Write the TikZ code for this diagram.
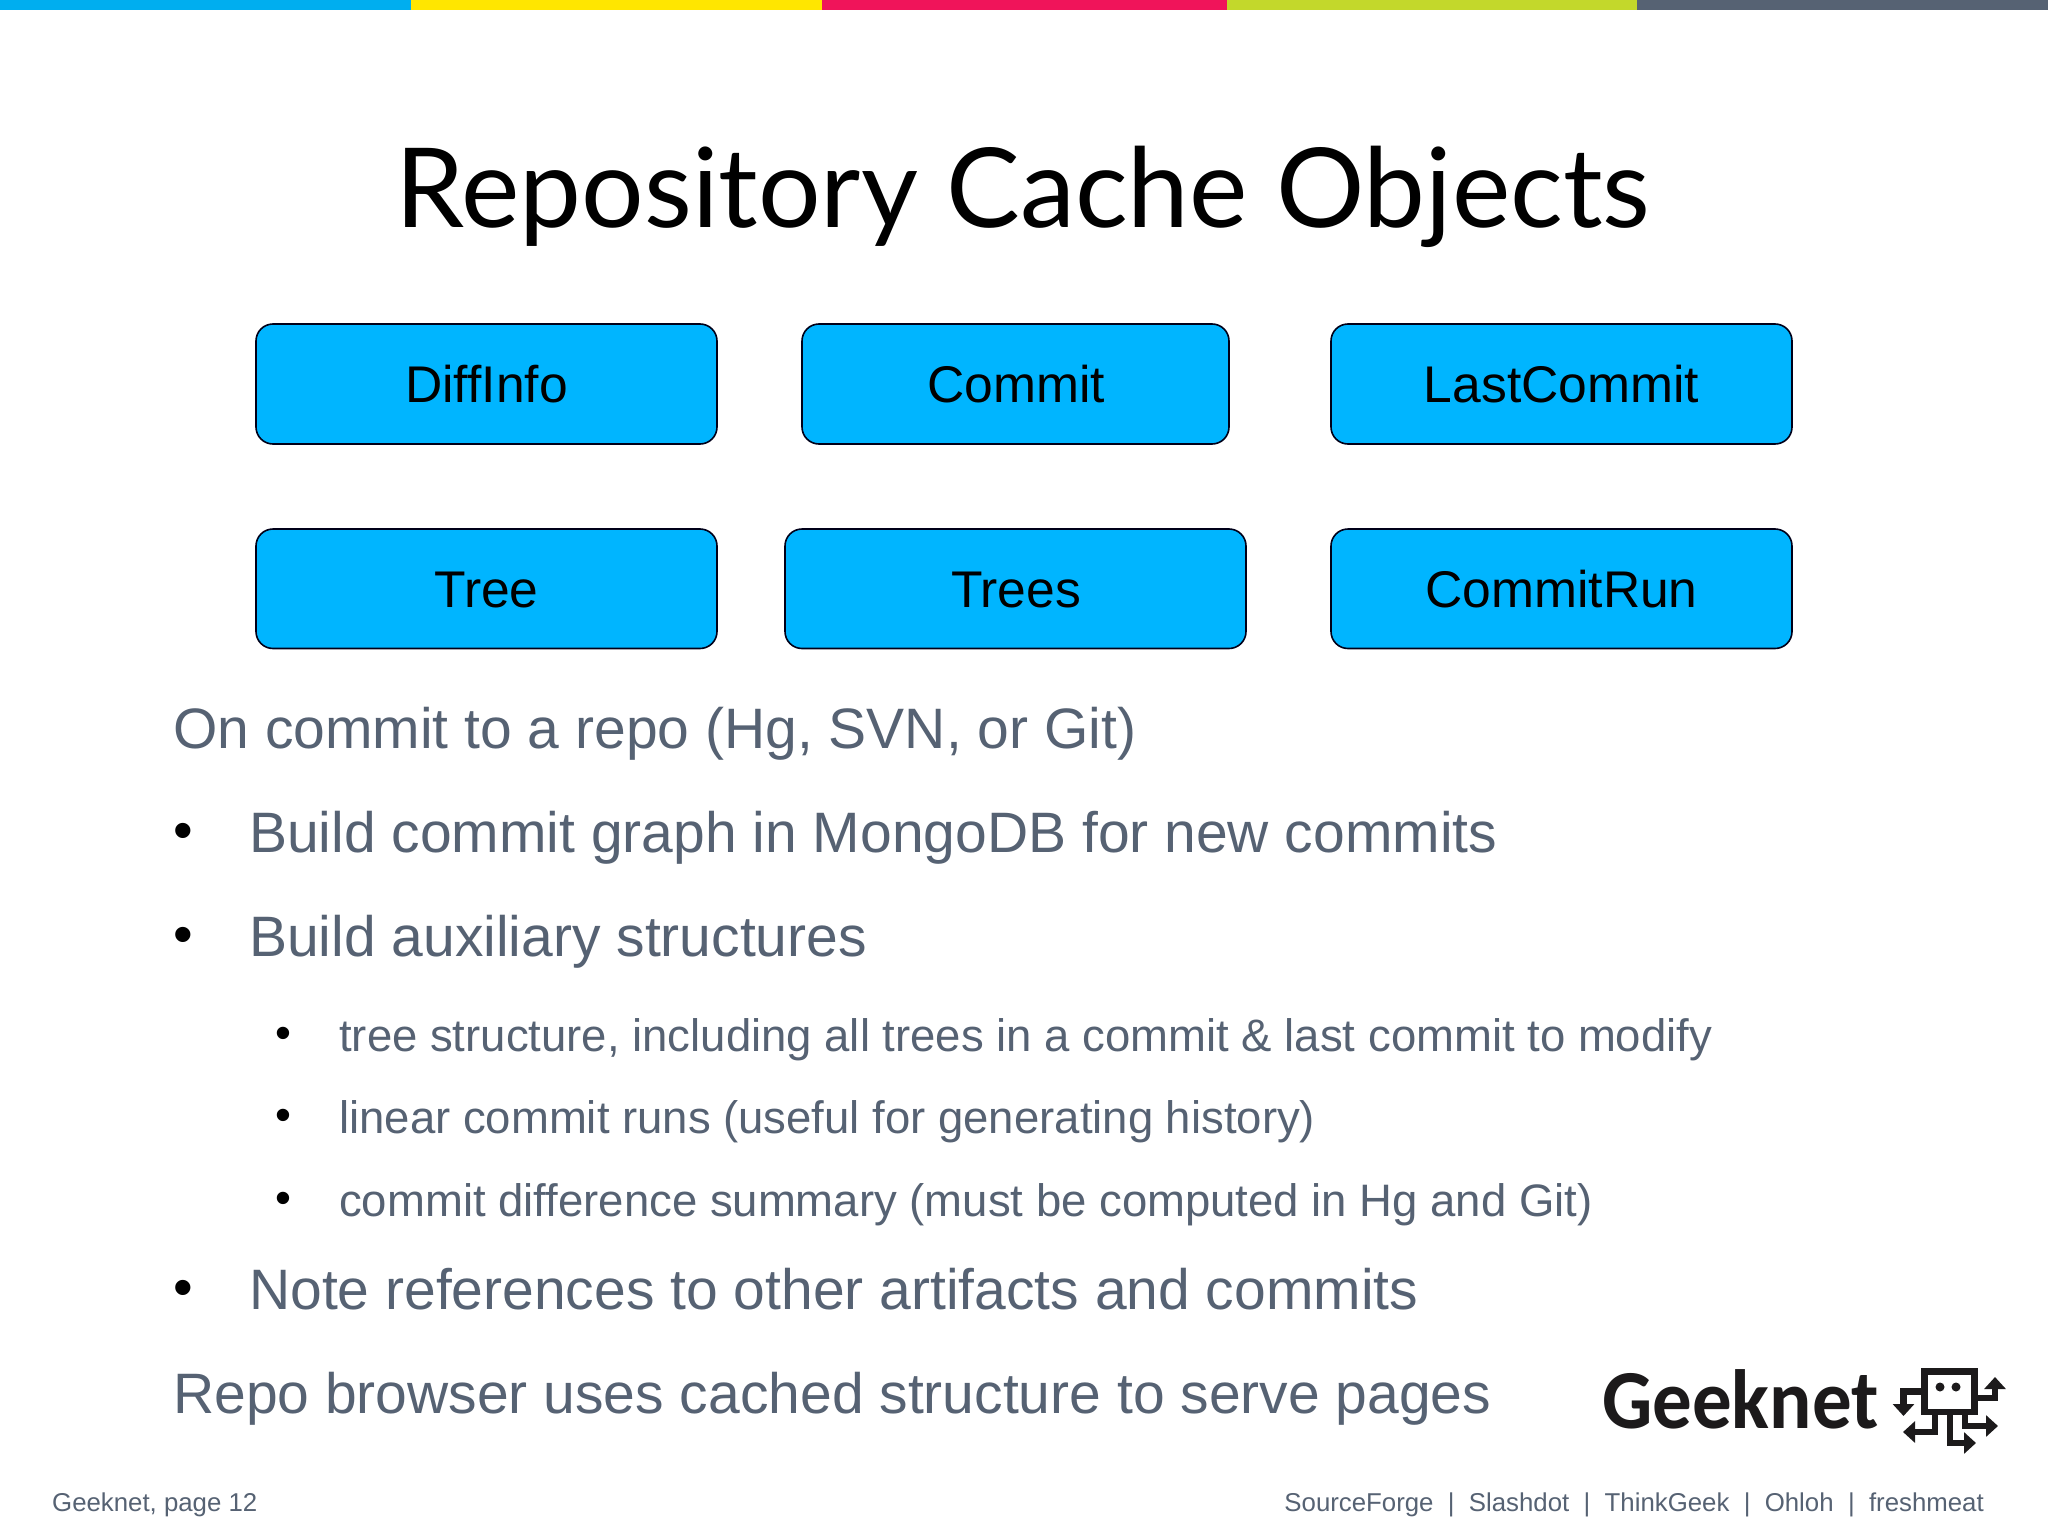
\documentclass[tikz,border=0pt]{standalone}
\usepackage{fontspec}
\usetikzlibrary{arrows.meta}
\setmainfont{Liberation Sans}
\newfontfamily\titlefont{Lato}
\newfontfamily\logofont[FakeStretch=0.94]{Carlito}
\definecolor{barblue}{HTML}{00AEEF}
\definecolor{baryellow}{HTML}{FFE600}
\definecolor{barred}{HTML}{F0145A}
\definecolor{bargreen}{HTML}{C3D82B}
\definecolor{bargrey}{HTML}{566273}
\definecolor{boxblue}{HTML}{00B5FF}
\definecolor{bodygrey}{HTML}{566273}
\definecolor{logoblack}{HTML}{1C1A1B}
\tikzset{
  x=1pt,y=-1pt,
  bar/.style={fill=#1,draw=none},
  cachebox/.style={draw=black!90!blue,line width=1.6pt,fill=boxblue,rounded corners=17pt},
  boxtext/.style={anchor=base,inner sep=0pt,text=black,font=\fontsize{51.6}{52}\selectfont},
  titletext/.style={anchor=base,inner sep=0pt,text=black,font=\titlefont\fontsize{110.5}{110}\selectfont},
  lvlone/.style={anchor=base west,inner sep=0pt,text=bodygrey,font=\fontsize{57}{57}\selectfont},
  lvltwo/.style={anchor=base west,inner sep=0pt,text=bodygrey,font=\fontsize{45.5}{45.5}\selectfont},
  bulone/.style={anchor=base west,inner sep=0pt,text=black,font=\fontsize{56}{56}\selectfont},
  bultwo/.style={anchor=base west,inner sep=0pt,text=black,font=\fontsize{45.5}{45.5}\selectfont},
  foot/.style={inner sep=0pt,text=bodygrey,font=\fontsize{25.8}{26}\selectfont},
  logowire/.style={draw=logoblack,line width=6.6pt,miter limit=10},
  logoarrow/.style={logowire,-{Triangle[length=12pt,width=21pt]}},
}
\begin{document}
\begin{tikzpicture}
\useasboundingbox (0,0) rectangle (2048,1536);
\fill[white] (0,0) rectangle (2048,1536);
\fill[bar=barblue] (0,0) rectangle (410.5,10);
\fill[bar=baryellow] (410.5,0) rectangle (821.5,10);
\fill[bar=barred] (821.5,0) rectangle (1226.5,10);
\fill[bar=bargreen] (1226.5,0) rectangle (1636.5,10);
\fill[bar=bargrey] (1636.5,0) rectangle (2048,10);

\node[titletext] (title) at (1023,227) {Repository Cache Objects};

\draw[cachebox] (256,324) rectangle (717,444);
\draw[cachebox] (802,324) rectangle (1229,444);
\draw[cachebox] (1331,324) rectangle (1792,444);
\draw[cachebox] (256,529) rectangle (717,648.5);
\draw[cachebox] (785,529) rectangle (1246,648.5);
\draw[cachebox] (1331,529) rectangle (1792,648.5);
\node[boxtext] (diffinfo) at (486.5,402) {DiffInfo};
\node[boxtext] (commit) at (1016,402) {Commit};
\node[boxtext] (lastcommit) at (1561.5,402) {LastCommit};
\node[boxtext] (tree) at (486.5,607) {Tree};
\node[boxtext] (trees) at (1016,607) {Trees};
\node[boxtext] (commitrun) at (1561.5,607) {CommitRun};

\node[lvlone] (l1) at (173,748) {On commit to a repo (Hg, SVN, or Git)};
\node[bulone] (b2) at (173,849) {•};
\node[lvlone] (l2) at (249,852) {Build commit graph in MongoDB for new commits};
\node[bulone] (b3) at (173,953) {•};
\node[lvlone] (l3) at (249,956) {Build auxiliary structures};
\node[bultwo] (b4) at (275,1048) {•};
\node[lvltwo] (l4) at (339,1051) {tree structure, including all trees in a commit \& last commit to modify};
\node[bultwo] (b5) at (275,1130) {•};
\node[lvltwo] (l5) at (339,1133) {linear commit runs (useful for generating history)};
\node[bultwo] (b6) at (275,1213) {•};
\node[lvltwo] (l6) at (339,1216) {commit difference summary (must be computed in Hg and Git)};
\node[bulone] (b7) at (173,1306) {•};
\node[lvlone] (l7) at (249,1309) {Note references to other artifacts and commits};
\node[lvlone] (l8) at (173,1413) {Repo browser uses cached structure to serve pages};

\node[foot,anchor=base west] (pagefoot) at (52,1511) {Geeknet, page 12};
\node[foot,anchor=base east] (brandfoot) at (1984,1511) {SourceForge\ \ |\ \ Slashdot\ \ |\ \ ThinkGeek\ \ |\ \ Ohloh\ \ |\ \ freshmeat};

\node[anchor=base west,inner sep=0pt,text=logoblack,font=\logofont\bfseries\fontsize{84}{84}\selectfont] (geeknet) at (1602,1428) {Geeknet};
% robot mark, coordinates in pixels
\draw[logowire] (1924.3,1371.3) rectangle (1974.7,1412);
\fill[logoblack] (1940,1387) circle (4.5pt) (1956,1387) circle (4.5pt);
\draw[logoarrow] (1921,1391.5) -| (1903.5,1416);
\draw[logoarrow] (1978,1398) -| (1995,1377);
\draw[logoarrow] (1935,1415) |- (1903,1432);
\draw[logoarrow] (1950,1415) |- (1976,1443);
\draw[logoarrow] (1965,1415) |- (1998,1426);
\end{tikzpicture}
\end{document}
